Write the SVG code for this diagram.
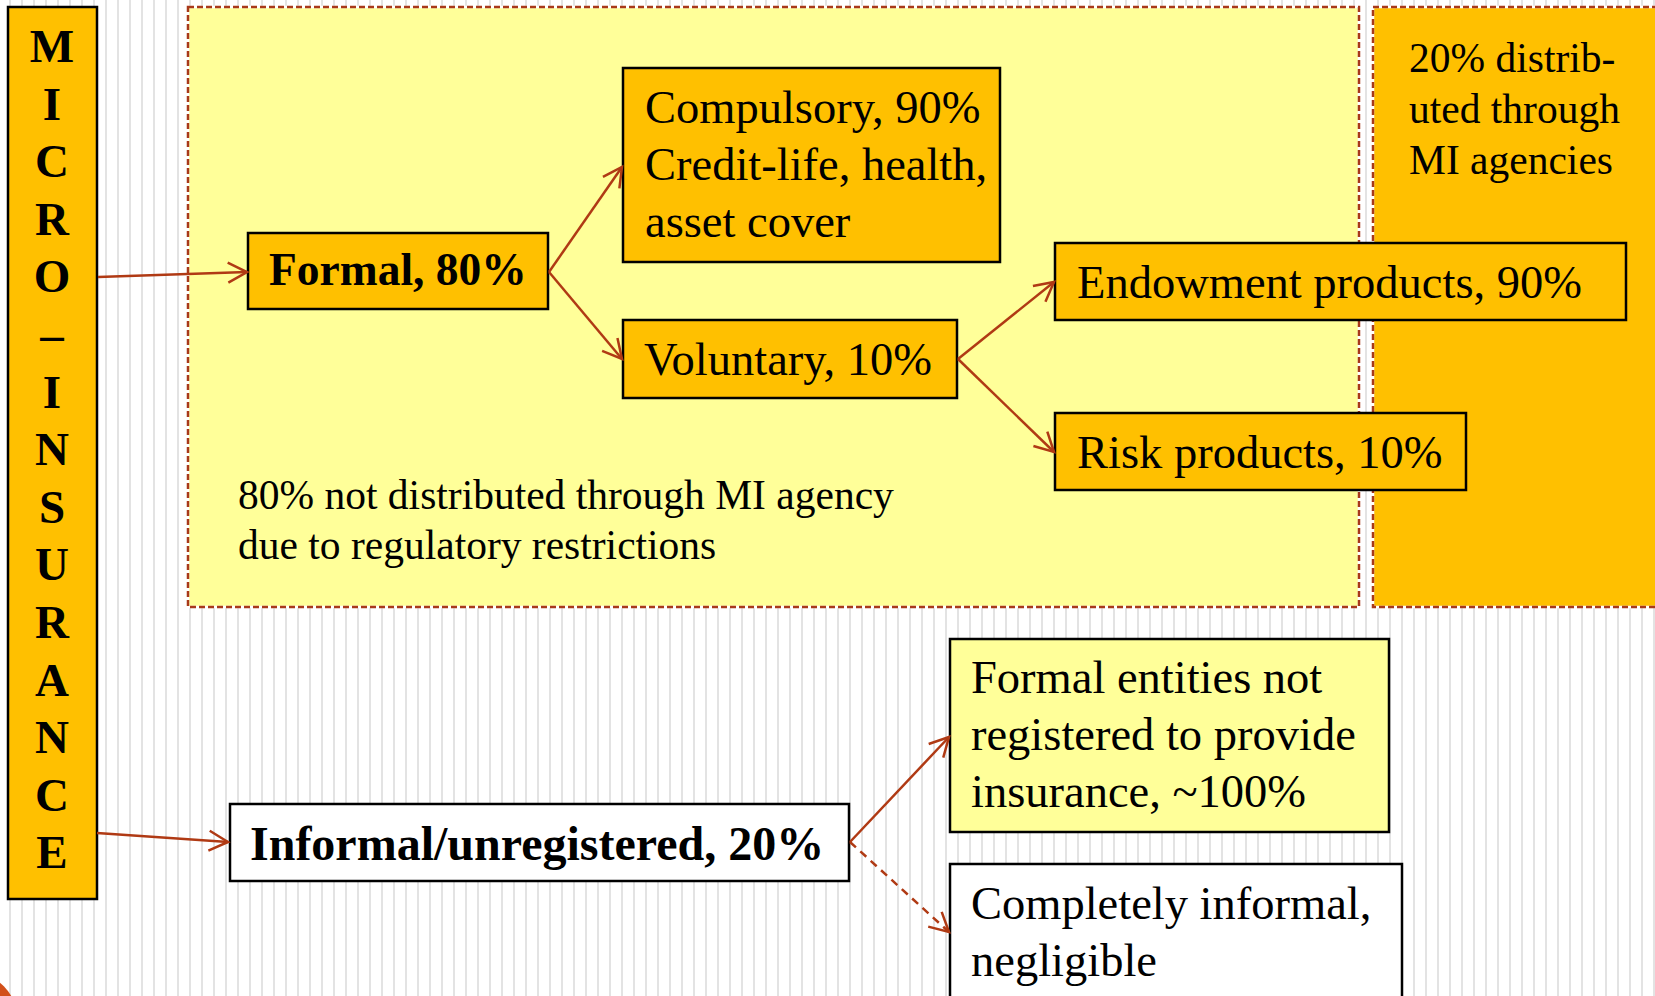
<svg xmlns="http://www.w3.org/2000/svg" width="1655" height="996" viewBox="0 0 1655 996">
  <defs>
    <pattern id="stripes" width="12" height="12" patternUnits="userSpaceOnUse">
      <rect x="9" y="0" width="2" height="12" fill="#e3e3e3"/>
    </pattern>
    <marker id="arr" viewBox="-24 -14 28 28" refX="0" refY="0" markerWidth="28" markerHeight="28" markerUnits="userSpaceOnUse" orient="auto">
      <path d="M-19,-10 L0,0 L-19,10" fill="none" stroke="#B03A14" stroke-width="2.5" stroke-linejoin="miter"/>
    </marker>
    <style>
      .box { stroke: #000; stroke-width: 2.5; }
      .gold { fill: #FFC000; }
      .pale { fill: #FFFF99; }
      .white { fill: #ffffff; }
      .zone-bg { stroke: #ffffff; stroke-width: 2.5; }
      .zone-edge { fill: none; stroke: #A8391A; stroke-width: 2.5; stroke-dasharray: 6 3; }
      .t { font-family: "Liberation Serif", "Times New Roman", serif; fill: #000; }
      .big { font-size: 46.5px; }
      .note { font-size: 41.5px; }
      .bold { font-weight: bold; }
      .vert { font-size: 47px; font-weight: bold; text-anchor: middle; }
      .link { fill: none; stroke: #B03A14; stroke-width: 2.5; marker-end: url(#arr); }
      .dashed { stroke-dasharray: 8 6; }
    </style>
  </defs>

  <!-- page background with fine vertical rules -->
  <rect x="0" y="0" width="1655" height="996" fill="#ffffff"/>
  <rect x="0" y="0" width="1655" height="996" fill="url(#stripes)"/>

  <!-- corner badge -->
  <circle cx="-28" cy="1018" r="45" fill="#D2501A"/>

  <!-- distribution zones -->
  <g id="zone-not-mi">
    <rect class="pale zone-bg" x="188" y="7" width="1171" height="600"/>
    <rect class="zone-edge" x="188" y="7" width="1171" height="600"/>
    <text class="t note" x="238" y="509">80% not distributed through MI agency</text>
    <text class="t note" x="238" y="559">due to regulatory restrictions</text>
  </g>
  <g id="zone-mi">
    <rect class="gold zone-bg" x="1373" y="7" width="300" height="600"/>
    <rect class="zone-edge" x="1373" y="7" width="300" height="600"/>
    <text class="t note" x="1409" y="72">20% distrib-</text>
    <text class="t note" x="1409" y="123">uted through</text>
    <text class="t note" x="1409" y="174">MI agencies</text>
  </g>

  <!-- root column -->
  <g id="micro-insurance">
    <rect class="box gold" x="8" y="7" width="89" height="892"/>
    <text class="t vert" x="52" y="62">M</text>
    <text class="t vert" x="52" y="119.6">I</text>
    <text class="t vert" x="52" y="177.2">C</text>
    <text class="t vert" x="52" y="234.8">R</text>
    <text class="t vert" x="52" y="292.4">O</text>
    <text class="t vert" x="52" y="350">–</text>
    <text class="t vert" x="52" y="407.6">I</text>
    <text class="t vert" x="52" y="465.2">N</text>
    <text class="t vert" x="52" y="522.8">S</text>
    <text class="t vert" x="52" y="580.4">U</text>
    <text class="t vert" x="52" y="638">R</text>
    <text class="t vert" x="52" y="695.6">A</text>
    <text class="t vert" x="52" y="753.2">N</text>
    <text class="t vert" x="52" y="810.8">C</text>
    <text class="t vert" x="52" y="868.4">E</text>
  </g>

  <g id="formal">
    <rect class="box gold" x="248" y="233" width="300" height="76"/>
    <text class="t bold" font-size="45.5" x="269" y="285">Formal, 80%</text>
  </g>

  <g id="compulsory">
    <rect class="box gold" x="623" y="68" width="377" height="194"/>
    <text class="t big" x="645" y="123">Compulsory, 90%</text>
    <text class="t big" x="645" y="180">Credit-life, health,</text>
    <text class="t big" x="645" y="237">asset cover</text>
  </g>

  <g id="voluntary">
    <rect class="box gold" x="623" y="320" width="334" height="78"/>
    <text class="t big" x="644" y="375">Voluntary, 10%</text>
  </g>

  <g id="endowment">
    <rect class="box gold" x="1055" y="243" width="571" height="77"/>
    <text class="t big" x="1077" y="298">Endowment products, 90%</text>
  </g>

  <g id="risk">
    <rect class="box gold" x="1055" y="413" width="411" height="77"/>
    <text class="t big" x="1077" y="468">Risk products, 10%</text>
  </g>

  <g id="informal">
    <rect class="box white" x="230" y="804" width="619" height="77"/>
    <text class="t bold" font-size="48" x="250" y="860">Informal/unregistered, 20%</text>
  </g>

  <g id="formal-unregistered">
    <rect class="box pale" x="950" y="639" width="439" height="193"/>
    <text class="t big" x="971" y="693">Formal entities not</text>
    <text class="t big" x="971" y="750">registered to provide</text>
    <text class="t big" x="971" y="807">insurance, ~100%</text>
  </g>

  <g id="completely-informal">
    <rect class="box white" x="950" y="864" width="452" height="150"/>
    <text class="t big" x="971" y="919">Completely informal,</text>
    <text class="t big" x="971" y="976">negligible</text>
  </g>

  <!-- connectors -->
  <g id="connectors">
    <line class="link" x1="98" y1="277" x2="247" y2="272"/>
    <line class="link" x1="97" y1="833" x2="228" y2="842"/>
    <line class="link" x1="549" y1="272" x2="622" y2="167"/>
    <line class="link" x1="549" y1="272" x2="622" y2="359"/>
    <line class="link" x1="958" y1="359" x2="1054" y2="282"/>
    <line class="link" x1="958" y1="359" x2="1054" y2="452"/>
    <line class="link" x1="850" y1="842" x2="949" y2="737"/>
    <line class="link dashed" x1="850" y1="842" x2="949" y2="932"/>
  </g>
</svg>
